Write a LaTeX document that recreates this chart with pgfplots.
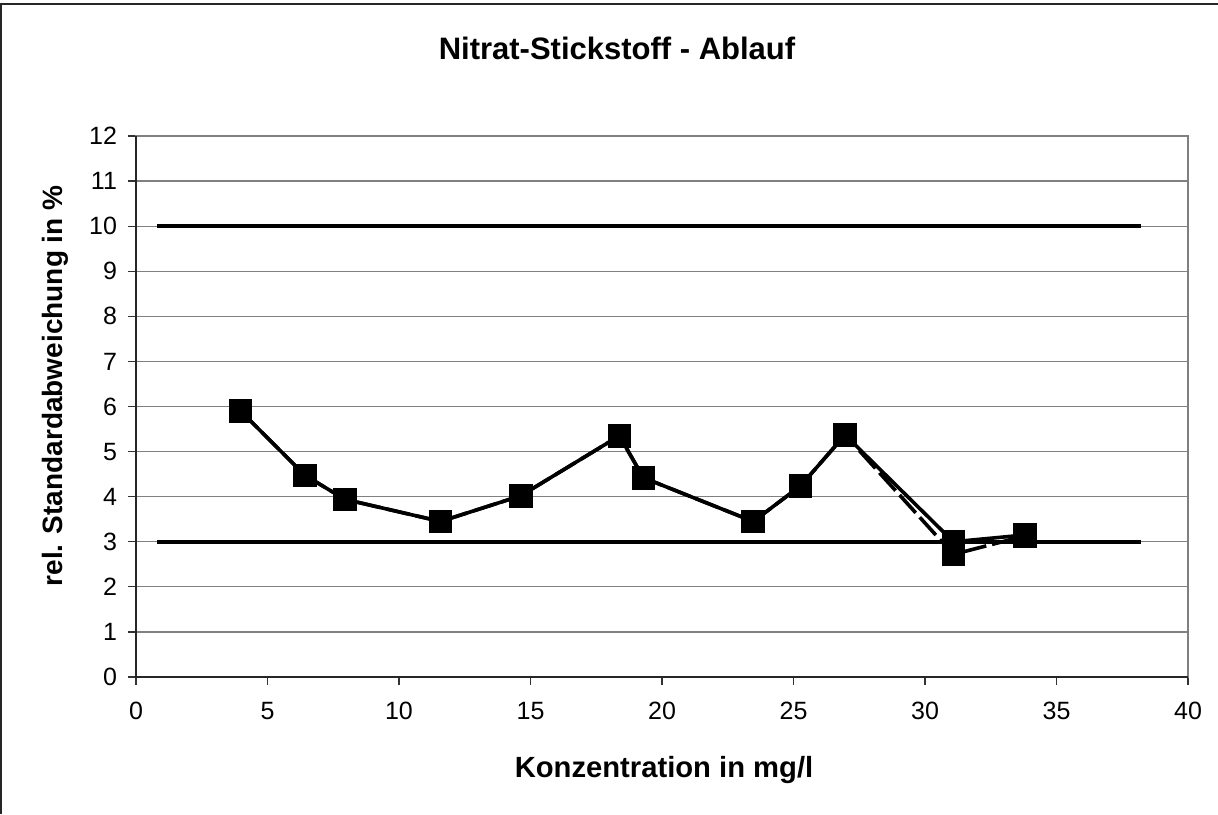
\documentclass[border=0pt]{standalone}
\usepackage{pgfplots}
\pgfplotsset{compat=1.18}
\usepackage{fontspec}
\setmainfont{Liberation Sans}
\begin{document}
\begin{tikzpicture}[x=1pt,y=1pt]
\useasboundingbox (-68,-68.5) rectangle (541,338.5);
\draw[line width=0.8pt,black!85] (-67.5,-68.5) -- (-67.5,336.5) -- (541,336.5);
\begin{axis}[
  at={(0,0)}, anchor=origin,
  scale only axis, width=526pt, height=270.5pt,
  xmin=0, xmax=40, ymin=0, ymax=12,
  xtick={0,5,...,40}, ytick={0,1,...,12},
  xtick pos=bottom, ytick pos=left,
  tick align=outside, major tick length=4pt,
  tick style={black!80, line width=0.6pt},
  axis line style={gray, line width=0.7pt},
  ymajorgrids, grid style={gray, line width=0.6pt},
  /pgf/number format/assume math mode=true,
  ticklabel style={font=\fontsize{12.5}{14}\selectfont},
  xticklabel style={yshift=-5pt},
  yticklabel style={xshift=-2pt},
  clip=false,
]
\draw[black!85, line width=0.8pt] (rel axis cs:0,1) -- (rel axis cs:0,0) -- (rel axis cs:1,0);
% limit lines
\addplot[black, line width=2.2pt] coordinates {(0.8,10) (38.2,10)};
\addplot[black, line width=2.2pt] coordinates {(0.8,3) (38.2,3)};
% dashed series
\addplot[black, line width=1.8pt, dashed, dash pattern=on 12pt off 3pt, mark=square*, mark size=5pt, mark options={solid}] coordinates {
(3.98,5.90) (6.43,4.47) (7.95,3.94) (11.58,3.45) (14.63,4.02) (18.38,5.35) (19.29,4.42) (23.47,3.45) (25.27,4.24) (26.96,5.37) (31.08,2.72) (33.80,3.13)
};
% solid series
\addplot[black, line width=1.8pt, mark=square*, mark size=5pt] coordinates {
(3.98,5.90) (6.43,4.47) (7.95,3.94) (11.58,3.45) (14.63,4.02) (18.38,5.35) (19.29,4.42) (23.47,3.45) (25.27,4.24) (26.96,5.37) (31.08,3.00) (33.80,3.15)
};
\end{axis}
\node[font=\bfseries\fontsize{15.5}{18}\selectfont, anchor=base] at (240.5,308.5) {Nitrat-Stickstoff - Ablauf};
\node[font=\bfseries\fontsize{14.6}{17}\selectfont, anchor=base] at (264,-50) {Konzentration in mg/l};
\node[font=\bfseries\fontsize{14}{17}\selectfont, rotate=90] at (-40.5,145.5) {rel. Standardabweichung in \%};
\end{tikzpicture}
\end{document}
